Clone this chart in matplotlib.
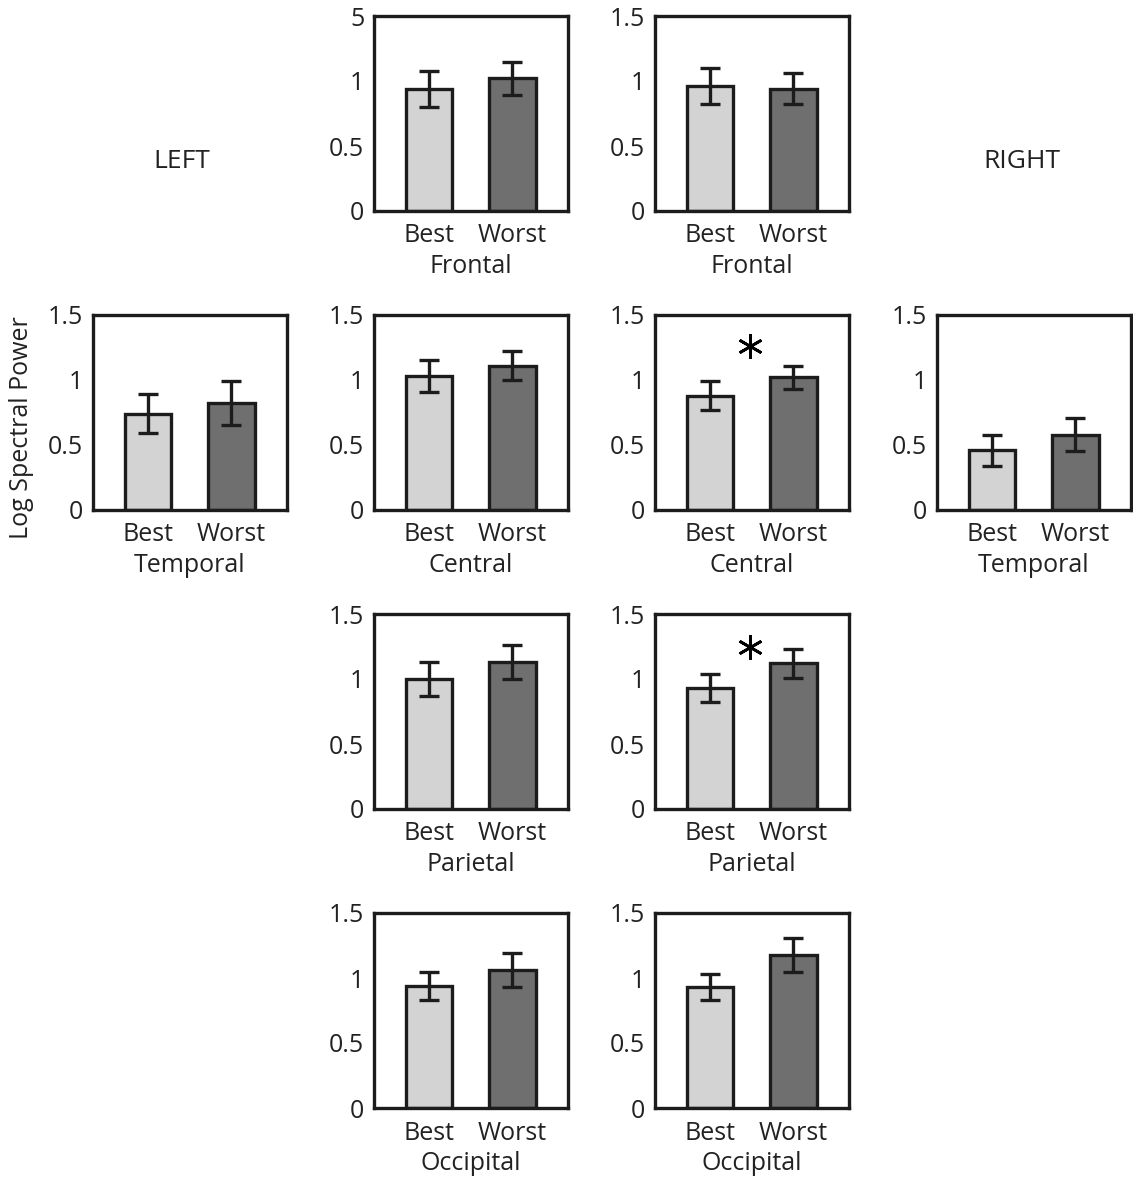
import numpy as np
import matplotlib.pyplot as plt

plt.rcParams['font.family'] = ['Open Sans', 'DejaVu Sans']

conditions = ["Best", "Worst"]

# panel name, region label, grid row, grid column
panels = [
    ("frontal_l", "Frontal", 0, 1),
    ("frontal_r", "Frontal", 0, 2),
    ("temporal_l", "Temporal", 1, 0),
    ("central_l", "Central", 1, 1),
    ("central_r", "Central", 1, 2),
    ("temporal_r", "Temporal", 1, 3),
    ("parietal_l", "Parietal", 2, 1),
    ("parietal_r", "Parietal", 2, 2),
    ("occipital_l", "Occipital", 3, 1),
    ("occipital_r", "Occipital", 3, 2),
]

# mean log spectral power (best, worst)
means = {
    "frontal_l": [0.94, 1.02],
    "frontal_r": [0.96, 0.94],
    "temporal_l": [0.74, 0.82],
    "central_l": [1.03, 1.11],
    "central_r": [0.88, 1.02],
    "temporal_r": [0.46, 0.58],
    "parietal_l": [1.00, 1.13],
    "parietal_r": [0.93, 1.12],
    "occipital_l": [0.94, 1.06],
    "occipital_r": [0.93, 1.18],
}

# error bar half-widths (best, worst)
errors = {
    "frontal_l": [0.14, 0.13],
    "frontal_r": [0.14, 0.12],
    "temporal_l": [0.15, 0.17],
    "central_l": [0.12, 0.11],
    "central_r": [0.11, 0.09],
    "temporal_r": [0.12, 0.13],
    "parietal_l": [0.13, 0.13],
    "parietal_r": [0.11, 0.11],
    "occipital_l": [0.11, 0.13],
    "occipital_r": [0.10, 0.13],
}

# significant differences: panel -> asterisk height
significant = {"central_r": 1.26, "parietal_r": 1.245}

yticks = [0, 0.5, 1, 1.5]
ytick_labels = ["0", "0.5", "1", "1.5"]

W, H = 1133, 1177
fig = plt.figure(figsize=(W / 100, H / 100), dpi=100)

col_x = [93, 374, 655, 937]
row_y = [211, 510, 809, 1108]
box_w, box_h = 194, 195

light = "#d3d3d3"
dark = "#6f6f6f"
edge = "#1c1c1c"
txt = "#222222"
fs = 18

for key, region, r, c in panels:
    ax = fig.add_axes([col_x[c] / W, 1 - row_y[r] / H, box_w / W, box_h / H])
    x = np.arange(1, len(conditions) + 1)
    ax.bar(x, means[key], width=0.56, color=[light, dark], edgecolor=edge,
           linewidth=2.4, zorder=2)
    ax.errorbar(x, means[key], yerr=errors[key], fmt="none", ecolor=edge,
                elinewidth=2.4, capsize=7, capthick=2.4, zorder=3)
    ax.set_xlim(0.34, 2.67)
    ax.set_ylim(0, 1.5)
    ax.set_yticks(yticks)
    labels = list(ytick_labels)
    if key == "frontal_l":
        labels[-1] = "5"
    ax.set_yticklabels(labels, fontsize=fs, color=txt)
    ax.set_xticks(x)
    ax.set_xticklabels(conditions, fontsize=fs, color=txt)
    ax.tick_params(axis="x", length=0, pad=9)
    ax.tick_params(axis="y", length=0, pad=7)
    ax.set_xlabel(region, fontsize=fs, color=txt, labelpad=4)
    for s in ax.spines.values():
        s.set_linewidth(2.4)
        s.set_color(edge)
    if key in significant:
        ax.plot([1.48], [significant[key]], marker=(6, 2, 0), markersize=18,
                markeredgewidth=2.0, color="black", linestyle="none")

fig.text(182 / W, 1 - 161 / H, "LEFT", fontsize=19, ha="center", va="center",
         color=txt)
fig.text(1022 / W, 1 - 161 / H, "RIGHT", fontsize=19, ha="center",
         va="center", color=txt)
fig.text(22 / W, 1 - 428 / H, "Log Spectral Power", fontsize=18,
         rotation=90, ha="center", va="center", color=txt)

fig.savefig("out.png", dpi=100)
